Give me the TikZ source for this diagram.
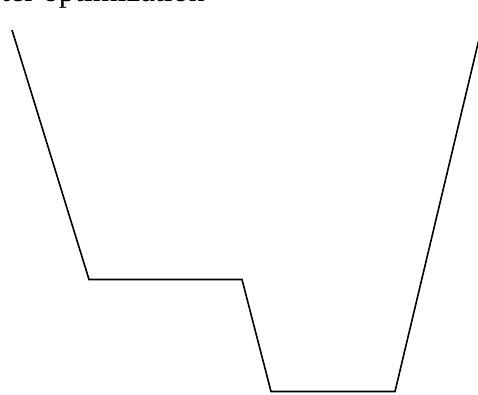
\documentclass[tikz,border=0pt]{standalone}
\usepackage{fontspec}
\setmainfont{Liberation Serif}
\begin{document}
\begin{tikzpicture}[x=1pt,y=1pt,
  curve/.style={line width=1.6pt, line join=miter},
  caption/.style={inner sep=0pt, anchor=base west, font=\fontsize{32}{38}\selectfont}]
\useasboundingbox (0,0) rectangle (478,394);
\clip (0,0) rectangle (478,394);
\node[caption] (title) at (1,392) {ter optimization};
\coordinate (p1) at (12,364);
\coordinate (p2) at (89,114.5);
\coordinate (p3) at (242,114.5);
\coordinate (p4) at (271,2.5);
\coordinate (p5) at (395,2.5);
\coordinate (p6) at (480,359);
\draw[curve] (p1) -- (p2) -- (p3) -- (p4) -- (p5) -- (p6);
\end{tikzpicture}
\end{document}
